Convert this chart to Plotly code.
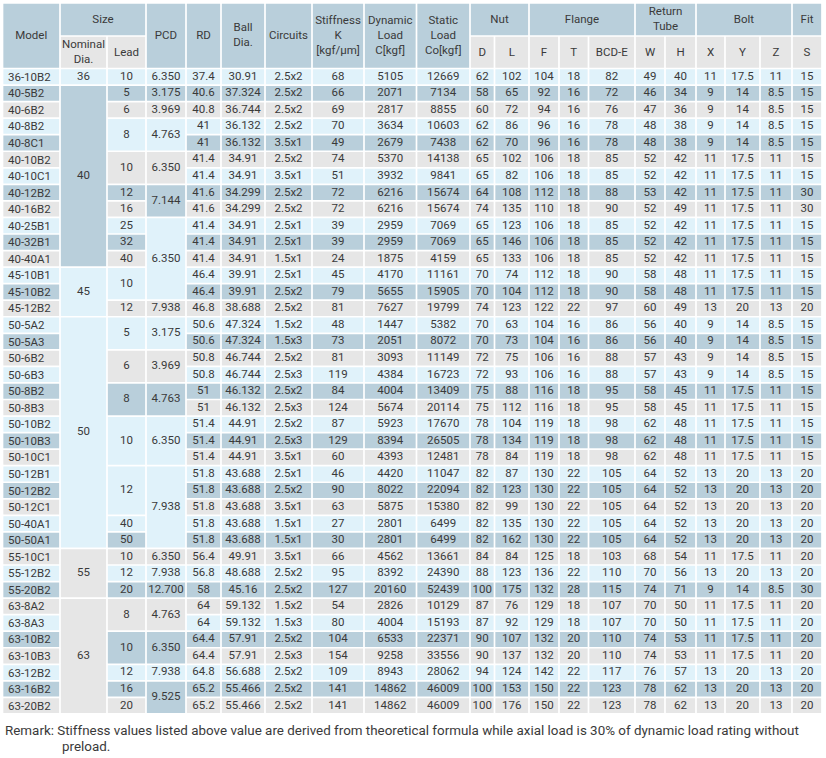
import plotly.graph_objects as go

# ---------------- data ----------------
models = ["36-10B2", "40-5B2", "40-6B2", "40-8B2", "40-8C1", "40-10B2", "40-10C1", "40-12B2", "40-16B2",
          "40-25B1", "40-32B1", "40-40A1", "45-10B1", "45-10B2", "45-12B2", "50-5A2", "50-5A3", "50-6B2",
          "50-6B3", "50-8B2", "50-8B3", "50-10B2", "50-10B3", "50-10C1", "50-12B1", "50-12B2", "50-12C1",
          "50-40A1", "50-50A1", "55-10C1", "55-12B2", "55-20B2", "63-8A2", "63-8A3", "63-10B2", "63-10B3",
          "63-12B2", "63-16B2", "63-20B2"]
nominal_dia = [36, 40, 40, 40, 40, 40, 40, 40, 40, 40, 40, 40, 45, 45, 45,
               50, 50, 50, 50, 50, 50, 50, 50, 50, 50, 50, 50, 50, 50, 55, 55, 55, 63, 63, 63, 63, 63, 63, 63]
lead = [10, 5, 6, 8, 8, 10, 10, 12, 16, 25, 32, 40, 10, 10, 12,
        5, 5, 6, 6, 8, 8, 10, 10, 10, 12, 12, 12, 40, 50, 10, 12, 20, 8, 8, 10, 10, 12, 16, 20]
pcd = [6.350, 3.175, 3.969, 4.763, 4.763, 6.350, 6.350, 7.144, 7.144, 6.350, 6.350, 6.350, 6.350, 6.350, 7.938,
       3.175, 3.175, 3.969, 3.969, 4.763, 4.763, 6.350, 6.350, 6.350, 7.938, 7.938, 7.938, 7.938, 7.938,
       6.350, 7.938, 12.700, 4.763, 4.763, 6.350, 6.350, 7.938, 9.525, 9.525]
rd = [37.4, 40.6, 40.8, 41, 41, 41.4, 41.4, 41.6, 41.6, 41.4, 41.4, 41.4, 46.4, 46.4, 46.8,
      50.6, 50.6, 50.8, 50.8, 51, 51, 51.4, 51.4, 51.4, 51.8, 51.8, 51.8, 51.8, 51.8,
      56.4, 56.8, 58, 64, 64, 64.4, 64.4, 64.8, 65.2, 65.2]
ball_dia = [30.91, 37.324, 36.744, 36.132, 36.132, 34.91, 34.91, 34.299, 34.299, 34.91, 34.91, 34.91,
            39.91, 39.91, 38.688, 47.324, 47.324, 46.744, 46.744, 46.132, 46.132, 44.91, 44.91, 44.91,
            43.688, 43.688, 43.688, 43.688, 43.688, 49.91, 48.688, 45.16, 59.132, 59.132, 57.91, 57.91,
            56.688, 55.466, 55.466]
circuits = ["2.5x2", "2.5x2", "2.5x2", "2.5x2", "3.5x1", "2.5x2", "3.5x1", "2.5x2", "2.5x2", "2.5x1", "2.5x1",
            "1.5x1", "2.5x1", "2.5x2", "2.5x2", "1.5x2", "1.5x3", "2.5x2", "2.5x3", "2.5x2", "2.5x3", "2.5x2",
            "2.5x3", "3.5x1", "2.5x1", "2.5x2", "3.5x1", "1.5x1", "1.5x1", "3.5x1", "2.5x2", "2.5x2", "1.5x2",
            "1.5x3", "2.5x2", "2.5x3", "2.5x2", "2.5x2", "2.5x2"]
stiffness = [68, 66, 69, 70, 49, 74, 51, 72, 72, 39, 39, 24, 45, 79, 81, 48, 73, 81, 119, 84, 124, 87, 129,
             60, 46, 90, 63, 27, 30, 66, 95, 127, 54, 80, 104, 154, 109, 141, 141]
dynamic_load = [5105, 2071, 2817, 3634, 2679, 5370, 3932, 6216, 6216, 2959, 2959, 1875, 4170, 5655, 7627,
                1447, 2051, 3093, 4384, 4004, 5674, 5923, 8394, 4393, 4420, 8022, 5875, 2801, 2801,
                4562, 8392, 20160, 2826, 4004, 6533, 9258, 8943, 14862, 14862]
static_load = [12669, 7134, 8855, 10603, 7438, 14138, 9841, 15674, 15674, 7069, 7069, 4159, 11161, 15905,
               19799, 5382, 8072, 11149, 16723, 13409, 20114, 17670, 26505, 12481, 11047, 22094, 15380,
               6499, 6499, 13661, 24390, 52439, 10129, 15193, 22371, 33556, 28062, 46009, 46009]
nut_d = [62, 58, 60, 62, 62, 65, 65, 64, 74, 65, 65, 65, 70, 70, 74, 70, 70, 72, 72, 75, 75, 78, 78, 78,
         82, 82, 82, 82, 82, 84, 88, 100, 87, 87, 90, 90, 94, 100, 100]
nut_l = [102, 65, 72, 86, 70, 102, 82, 108, 135, 123, 146, 133, 74, 104, 123, 63, 73, 75, 93, 88, 112, 104,
         134, 84, 87, 123, 99, 135, 162, 84, 123, 175, 76, 92, 107, 137, 124, 153, 176]
flange_f = [104, 92, 94, 96, 96, 106, 106, 112, 110, 106, 106, 106, 112, 112, 122, 104, 104, 106, 106, 116,
            116, 119, 119, 119, 130, 130, 130, 130, 130, 125, 136, 132, 129, 129, 132, 132, 142, 150, 150]
flange_t = [18, 16, 16, 16, 16, 18, 18, 18, 18, 18, 18, 18, 18, 18, 22, 16, 16, 16, 16, 18, 18, 18, 18, 18,
            22, 22, 22, 22, 22, 18, 22, 28, 18, 18, 20, 20, 22, 22, 22]
flange_bcd = [82, 72, 76, 78, 78, 85, 85, 88, 90, 85, 85, 85, 90, 90, 97, 86, 86, 88, 88, 95, 95, 98, 98, 98,
              105, 105, 105, 105, 105, 103, 110, 115, 107, 107, 110, 110, 117, 123, 123]
tube_w = [49, 46, 47, 48, 48, 52, 52, 53, 52, 52, 52, 52, 58, 58, 60, 56, 56, 57, 57, 58, 58, 62, 62, 62,
          64, 64, 64, 64, 64, 68, 70, 74, 70, 70, 74, 74, 76, 78, 78]
tube_h = [40, 34, 36, 38, 38, 42, 42, 42, 49, 42, 42, 42, 48, 48, 49, 40, 40, 43, 43, 45, 45, 48, 48, 48,
          52, 52, 52, 52, 52, 54, 56, 71, 50, 50, 53, 53, 57, 62, 62]
bolt_x = [11, 9, 9, 9, 9, 11, 11, 11, 11, 11, 11, 11, 11, 11, 13, 9, 9, 9, 9, 11, 11, 11, 11, 11,
          13, 13, 13, 13, 13, 11, 13, 9, 11, 11, 11, 11, 13, 13, 13]
bolt_y = [17.5, 14, 14, 14, 14, 17.5, 17.5, 17.5, 17.5, 17.5, 17.5, 17.5, 17.5, 17.5, 20, 14, 14, 14, 14,
          17.5, 17.5, 17.5, 17.5, 17.5, 20, 20, 20, 20, 20, 17.5, 20, 14, 17.5, 17.5, 17.5, 17.5, 20, 20, 20]
bolt_z = [11, 8.5, 8.5, 8.5, 8.5, 11, 11, 11, 11, 11, 11, 11, 11, 11, 13, 8.5, 8.5, 8.5, 8.5, 11, 11, 11,
          11, 11, 13, 13, 13, 13, 13, 11, 13, 8.5, 11, 11, 11, 11, 13, 13, 13]
fit_s = [15, 15, 15, 15, 15, 15, 15, 30, 30, 15, 15, 15, 15, 15, 20, 15, 15, 15, 15, 15, 15, 15, 15, 15,
         20, 20, 20, 20, 20, 20, 20, 30, 20, 20, 20, 20, 20, 20, 20]

span_headers = ["Model", None, None, "PCD", "RD", "Ball<br>Dia.", "Circuits", "Stiffness<br>K<br>[kgf/μm]",
                "Dynamic<br>Load<br>C[kgf]", "Static<br>Load<br>Co[kgf]"]
group_headers = [("Size", 1, 2), ("Nut", 10, 11), ("Flange", 12, 14), ("Return<br>Tube", 15, 16),
                 ("Bolt", 17, 19), ("Fit", 20, 20)]
sub_headers = {1: "Nominal<br>Dia.", 2: "Lead", 10: "D", 11: "L", 12: "F", 13: "T", 14: "BCD-E",
               15: "W", 16: "H", 17: "X", 18: "Y", 19: "Z", 20: "S"}
remark_1 = "Remark: Stiffness values listed above value are derived from theoretical formula while axial load is 30% of dynamic load rating without"
remark_2 = "preload."

# ---------------- layout / style ----------------
W, H = 826, 758
col_edges = [2.5, 60, 107, 146, 186, 221, 265, 312, 364, 416.5, 470, 494.5, 529, 559, 588.5, 635, 665,
             696, 725, 760, 792, 822]
top, mid, body_top, row_h = 3.0, 36.0, 68.5, 16.55
gap = 0.85
STEEL, LIGHT, GRAY = "#b9cfdb", "#e0f2fa", "#e6e6e6"
row_cycle = [LIGHT, STEEL, GRAY]
TXT = "#3a3a3a"
FONT = "Roboto"
FS = 11.5


def g(v):
    return f"{v:g}"


def f3(v):
    return f"{v:.3f}"


columns = [
    (models, str, False), (nominal_dia, g, True), (lead, g, True), (pcd, f3, True), (rd, g, False),
    (ball_dia, g, False), (circuits, str, False), (stiffness, g, False), (dynamic_load, g, False),
    (static_load, g, False), (nut_d, g, False), (nut_l, g, False), (flange_f, g, False),
    (flange_t, g, False), (flange_bcd, g, False), (tube_w, g, False), (tube_h, g, False),
    (bolt_x, g, False), (bolt_y, g, False), (bolt_z, g, False), (fit_s, g, False),
]

n = len(models)
polys = {STEEL: ([], []), LIGHT: ([], []), GRAY: ([], [])}
tx, ty, tt = [], [], []
annotations = []


def add_rect(x0, x1, y0, y1, color):
    xs, ys = polys[color]
    a, b, c, d = x0 + gap, x1 - gap, y0 + gap, y1 - gap
    xs += [a, b, b, a, a, None]
    ys += [c, c, d, d, c, None]


def ry(i):
    return body_top + i * row_h


# header
for ci, label in enumerate(span_headers):
    if label is None:
        continue
    x0, x1 = col_edges[ci], col_edges[ci + 1]
    add_rect(x0, x1, top, body_top, STEEL)
    tx.append((x0 + x1) / 2); ty.append((top + body_top) / 2); tt.append(label)
for label, c0, c1 in group_headers:
    x0, x1 = col_edges[c0], col_edges[c1 + 1]
    add_rect(x0, x1, top, mid, STEEL)
    tx.append((x0 + x1) / 2); ty.append((top + mid) / 2 + 0.5); tt.append(label)
for ci, label in sub_headers.items():
    x0, x1 = col_edges[ci], col_edges[ci + 1]
    add_rect(x0, x1, mid, body_top, GRAY)
    tx.append((x0 + x1) / 2); ty.append((mid + body_top) / 2 + 0.5); tt.append(label)

# body
for ci, (vals, fmt, merge) in enumerate(columns):
    x0, x1 = col_edges[ci], col_edges[ci + 1]
    i = 0
    while i < n:
        j = i
        if merge:
            while j + 1 < n and vals[j + 1] == vals[i]:
                j += 1
        color = row_cycle[i % 3]
        add_rect(x0, x1, ry(i), ry(j + 1), color)
        yc = (ry(i) + ry(j + 1)) / 2
        if ci == 0:
            annotations.append(dict(x=x0 + 3.5, y=yc, xref="x", yref="y", text=fmt(vals[i]),
                                    showarrow=False, xanchor="left", yanchor="middle",
                                    font=dict(family=FONT, size=FS, color=TXT)))
        else:
            tx.append((x0 + x1) / 2); ty.append(yc); tt.append(fmt(vals[i]))
        i = j + 1

fig = go.Figure()
for color, (xs, ys) in polys.items():
    fig.add_trace(go.Scatter(x=xs, y=ys, mode="lines", fill="toself", fillcolor=color,
                             line=dict(width=0, color=color), hoverinfo="skip", showlegend=False))
fig.add_trace(go.Scatter(x=tx, y=ty, text=tt, mode="text", textposition="middle center",
                         textfont=dict(family=FONT, size=FS, color=TXT), hoverinfo="skip", showlegend=False))

annotations.append(dict(x=2.5, y=730.5, xref="x", yref="y", text=remark_1, showarrow=False, xanchor="left",
                        yanchor="middle", font=dict(family=FONT, size=13.4, color=TXT)))
annotations.append(dict(x=60, y=746, xref="x", yref="y", text=remark_2, showarrow=False, xanchor="left",
                        yanchor="middle", font=dict(family=FONT, size=13.4, color=TXT)))

fig.update_layout(
    width=W, height=H, margin=dict(l=0, r=0, t=0, b=0),
    paper_bgcolor="white", plot_bgcolor="white",
    xaxis=dict(range=[0, W], visible=False, fixedrange=True),
    yaxis=dict(range=[H, 0], visible=False, fixedrange=True),
    annotations=annotations, hovermode=False,
)
fig.write_html("out.html", config={"displayModeBar": False},
               post_script="document.body.style.margin='0px';document.body.style.overflow='hidden';")
